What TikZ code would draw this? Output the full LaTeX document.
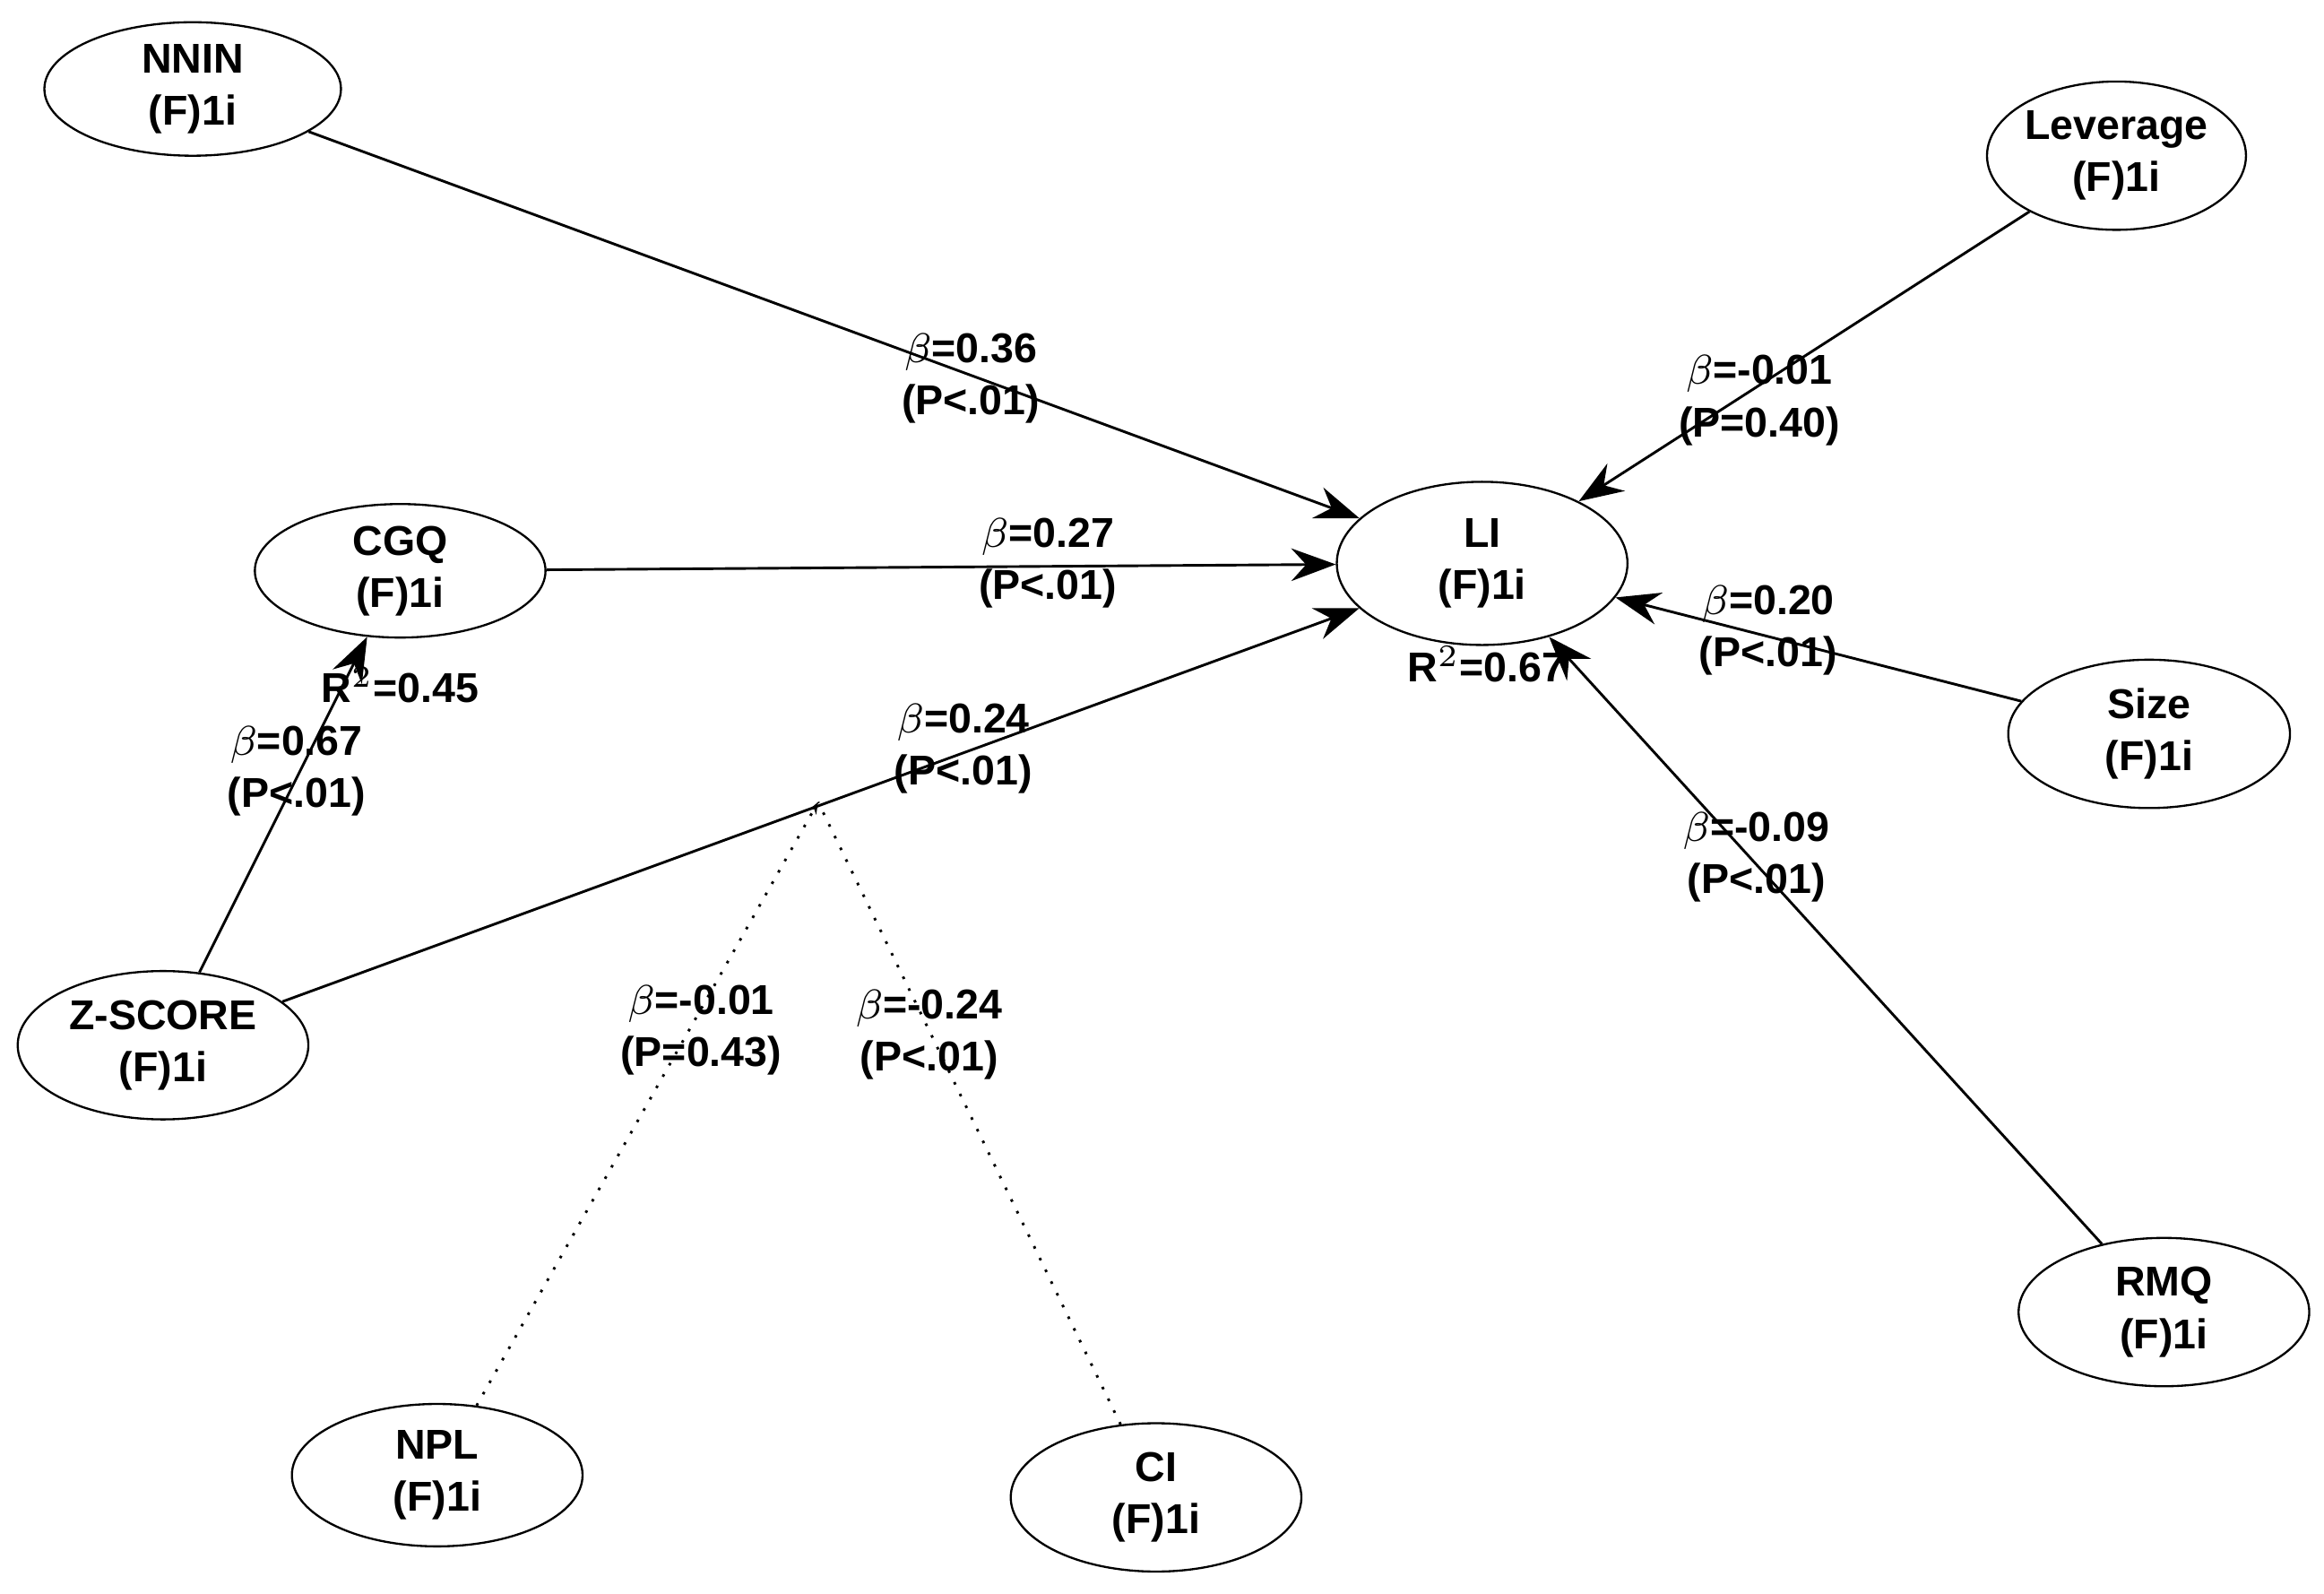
\documentclass[tikz,border=0pt]{standalone}
\usepackage{fontspec}
\setmainfont{Liberation Sans}
\usetikzlibrary{arrows.meta,shapes.geometric}
\begin{document}
\begin{tikzpicture}[x=0.01cm,y=-0.01cm,
  lv/.style={draw,ellipse,inner sep=0pt,font=\fontsize{8}{10}\selectfont\bfseries,align=center},
  ar/.style={-{Stealth[length=0.3cm,width=0.22cm,inset=0.1cm]},line width=0.5pt},
  lb/.style={font=\fontsize{8}{10}\selectfont\bfseries,align=center,inner sep=0pt},
  dt/.style={dotted,line width=0.5pt}]
\useasboundingbox (0,0) rectangle (1568,1075);
\node[lv,minimum width=2cm,minimum height=0.9cm] (nnin) at (130,60) {NNIN\\(F)1i};
\node[lv,minimum width=1.7cm,minimum height=1cm] (lev) at (1428,105) {Leverage\\(F)1i};
\node[lv,minimum width=1.96cm,minimum height=0.9cm] (cgq) at (270,385) {CGQ\\(F)1i};
\node[lv,minimum width=1.96cm,minimum height=1.1cm] (li) at (1000,380) {LI\\(F)1i};
\node[lv,minimum width=1.9cm,minimum height=1cm] (size) at (1450,495) {Size\\(F)1i};
\node[lv,minimum width=1.96cm,minimum height=1cm] (z) at (110,705) {Z-SCORE\\(F)1i};
\node[lv,minimum width=1.96cm,minimum height=1cm] (rmq) at (1460,885) {RMQ\\(F)1i};
\node[lv,minimum width=1.96cm,minimum height=0.96cm] (npl) at (295,995) {NPL\\(F)1i};
\node[lv,minimum width=1.96cm,minimum height=1cm] (ci) at (780,1010) {CI\\(F)1i};
\draw[ar] (nnin) -- (li);
\draw[ar] (cgq) -- (li);
\draw[ar] (z) -- (li);
\draw[ar] (lev) -- (li);
\draw[ar] (size) -- (li);
\draw[ar] (rmq) -- (li);
\draw[ar] (z) -- (cgq);
\coordinate (j) at (552,541);
\draw[dt,-{Stealth[length=0.08cm,width=0.06cm]}] (npl) -- (j);
\draw[dt] (ci) -- (j);
\node[lb] at (655,255) {$\beta$=0.36\\(P<.01)};
\node[lb] at (707,380) {$\beta$=0.27\\(P<.01)};
\node[lb] at (270,462) {R$^2$=0.45};
\node[lb] at (200,520) {$\beta$=0.67\\(P<.01)};
\node[lb] at (650,505) {$\beta$=0.24\\(P<.01)};
\node[lb] at (1187,270) {$\beta$=-0.01\\(P=0.40)};
\node[lb] at (1193,425) {$\beta$=0.20\\(P<.01)};
\node[lb] at (1003,448) {R$^2$=0.67};
\node[lb] at (1185,578) {$\beta$=-0.09\\(P<.01)};
\node[lb] at (473,695) {$\beta$=-0.01\\(P=0.43)};
\node[lb] at (627,698) {$\beta$=-0.24\\(P<.01)};
\end{tikzpicture}
\end{document}
